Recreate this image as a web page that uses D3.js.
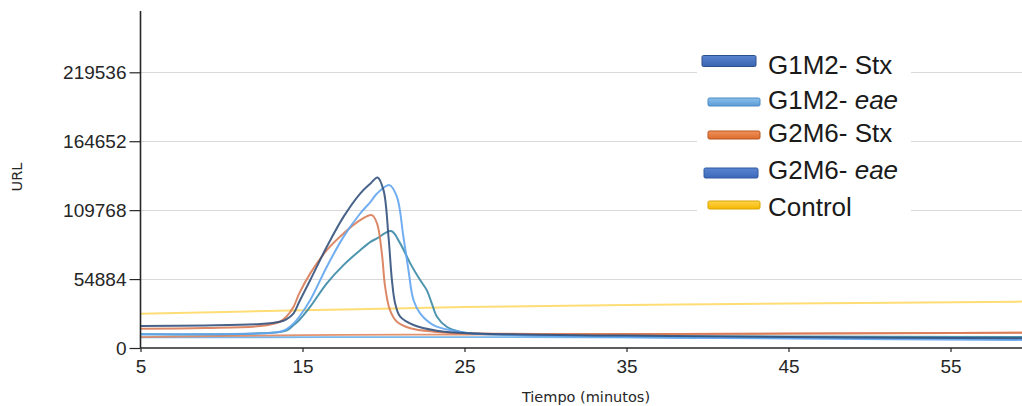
<!DOCTYPE html>
<html>
<head>
<meta charset="utf-8">
<script src="https://cdn.jsdelivr.net/npm/d3@7"></script>
<style>
  html, body { margin: 0; padding: 0; background: #ffffff; }
  svg { display: block; }
</style>
</head>
<body>
<svg id="chart" width="1022" height="406"></svg>
<script>
// ---------------- DATA ----------------
const yTickValues = [0, 54884, 109768, 164652, 219536];
const xTickValues = [5, 15, 25, 35, 45, 55];

const seriesNames = ["G1M2- Stx", "G1M2- eae", "G2M6- Stx", "G2M6- eae", "Control"];

// G1M2- Stx
const g1m2StxTime  = [5, 9, 12.4, 13.6, 14.0, 14.45, 14.8, 15.48, 16.5, 17.53, 18.56, 19.2, 19.63, 20.0, 20.31, 20.52, 20.72, 21.03, 21.85, 23.3, 25.35, 35, 45, 60];
const g1m2StxValue = [17500, 17900, 19100, 20900, 22800, 27600, 36800, 54100, 80600, 104400, 123000, 131000, 135800, 125700, 88500, 54100, 35500, 24900, 18300, 13800, 11700, 9900, 8700, 7700];

// G1M2- eae
const g1m2EaeTime  = [5, 12.4, 13.6, 14.0, 14.45, 14.8, 15.48, 16.5, 17.53, 18.56, 19.2, 19.6, 20.37, 20.83, 21.23, 21.54, 21.85, 22.26, 23.08, 24.3, 25.35, 35, 45, 60];
const g1m2EaeValue = [10900, 11700, 13000, 14900, 19600, 24900, 38200, 64700, 88500, 107100, 116400, 123000, 129700, 120300, 88500, 62000, 38200, 27600, 18300, 13800, 11700, 8700, 7600, 6400];

// G2M6- Stx
const g2m6StxTime  = [5, 9, 12.4, 13.6, 14.0, 14.45, 14.8, 15.48, 16.5, 17.53, 18.56, 19.28, 19.6, 19.9, 20.1, 20.4, 20.83, 21.65, 23.1, 25.35, 35, 45, 60];
const g2m6StxValue = [15400, 15900, 17500, 20900, 24900, 32900, 43500, 59400, 77900, 91200, 101800, 105800, 99200, 75300, 48800, 30200, 20900, 15700, 13000, 11700, 11100, 11500, 12200];

// G2M6- eae
const g2m6EaeTime  = [5, 12.4, 14.0, 14.45, 14.8, 15.48, 16.5, 17.53, 18.56, 19.2, 19.6, 20.47, 21.03, 21.65, 22.26, 22.67, 22.98, 23.3, 23.9, 24.7, 25.35, 35, 45, 60];
const g2m6EaeValue = [10900, 11700, 13800, 18300, 22300, 32900, 51500, 66000, 77900, 84500, 87300, 93100, 83300, 67400, 54100, 46100, 35600, 24900, 16900, 13000, 11700, 9500, 9100, 8700];

// Control
const controlTime  = [5, 15, 25, 35, 45, 60];
const controlValue = [27300, 30000, 32600, 34200, 35400, 37000];

// unlabelled flat baseline traces
const flatOrangeTime  = [5, 15, 25, 35, 45, 60];
const flatOrangeValue = [8700, 10300, 10700, 11100, 11500, 12300];
const flatBlueTime    = [5, 25, 45, 60];
const flatBlueValue   = [8400, 8700, 8000, 7600];

// ---------------- STYLE / LAYOUT ----------------
const W = 1022, H = 406;
const plotLeft = 140.5, plotBottom = 348, plotTop = 11;
const xPerMin = 16.2;

const lineColors = {
  "G1M2- Stx": "#34527d",
  "G1M2- eae": "#62a5f0",
  "G2M6- Stx": "#d97b55",
  "G2M6- eae": "#3a89a6",
  "Control":   "#ffd966",
  "flatOrange": "#e0875f",
  "flatBlue":   "#6aaee8"
};

const svg = d3.select("#chart");

const x = d3.scaleLinear()
  .domain([5, 60])
  .range([plotLeft, plotLeft + 55 * xPerMin]);

const y = d3.scaleLinear()
  .domain([0, 219536 * (plotBottom - plotTop) / (plotBottom - 72.3)])
  .range([plotBottom, plotTop]);

// grid lines
svg.append("g")
  .selectAll("line")
  .data(yTickValues.filter(v => v > 0))
  .join("line")
  .attr("x1", plotLeft)
  .attr("x2", W)
  .attr("y1", d => Math.round(y(d)) + 0.5)
  .attr("y2", d => Math.round(y(d)) + 0.5)
  .attr("stroke", "#d9d9d9")
  .attr("stroke-width", 1);

// lines
const lineGen = d3.line()
  .x(d => x(d[0]))
  .y(d => y(d[1]))
  .curve(d3.curveCatmullRom.alpha(0.5));

function zipSeries(t, v) { return t.map((tt, i) => [tt, v[i]]); }

const drawOrder = [
  { key: "flatBlue",   t: flatBlueTime,   v: flatBlueValue,   w: 1.8 },
  { key: "flatOrange", t: flatOrangeTime, v: flatOrangeValue, w: 1.8 },
  { key: "Control",    t: controlTime,    v: controlValue,    w: 2 },
  { key: "G2M6- eae",  t: g2m6EaeTime,    v: g2m6EaeValue,    w: 2 },
  { key: "G2M6- Stx",  t: g2m6StxTime,    v: g2m6StxValue,    w: 2 },
  { key: "G1M2- eae",  t: g1m2EaeTime,    v: g1m2EaeValue,    w: 2 },
  { key: "G1M2- Stx",  t: g1m2StxTime,    v: g1m2StxValue,    w: 2 }
];

const linesG = svg.append("g");
drawOrder.forEach(s => {
  linesG.append("path")
    .datum(zipSeries(s.t, s.v))
    .attr("d", lineGen)
    .attr("fill", "none")
    .attr("stroke", lineColors[s.key])
    .attr("stroke-width", s.w)
    .attr("stroke-opacity", 0.9)
    .attr("stroke-linejoin", "round");
});

// axes
const yAxis = d3.axisLeft(y)
  .tickValues(yTickValues)
  .tickFormat(d3.format("d"))
  .tickSize(11)
  .tickPadding(3);

const xAxis = d3.axisBottom(x)
  .tickValues(xTickValues)
  .tickFormat(d3.format("d"))
  .tickSize(4)
  .tickPadding(8);

const gy = svg.append("g")
  .attr("transform", `translate(${plotLeft},0)`)
  .call(yAxis);
gy.select(".domain").attr("d", `M0,${plotTop}V${plotBottom}`);

const gx = svg.append("g")
  .attr("transform", `translate(0,${plotBottom})`)
  .call(xAxis);
gx.select(".domain").attr("d", `M${plotLeft},0H${W}`);

[gx, gy].forEach(g => {
  g.select(".domain").attr("stroke", "#262626").attr("stroke-width", 1.6);
  g.selectAll(".tick line").attr("stroke", "#262626").attr("stroke-width", 1.2);
  g.selectAll(".tick text")
    .attr("fill", "#262626")
    .style("font-family", "'Liberation Sans', Arial, sans-serif")
    .style("font-size", "19px");
});

// axis titles
svg.append("text")
  .attr("x", 586)
  .attr("y", 402)
  .attr("text-anchor", "middle")
  .style("font-family", "'DejaVu Sans', Verdana, sans-serif")
  .style("font-size", "14.5px")
  .attr("fill", "#262626")
  .text("Tiempo (minutos)");

svg.append("text")
  .attr("transform", "translate(22,177) rotate(-90)")
  .attr("text-anchor", "middle")
  .style("font-family", "'DejaVu Sans', Verdana, sans-serif")
  .style("font-size", "14.5px")
  .attr("fill", "#262626")
  .text("URL");

// ---------------- LEGEND ----------------
const legendBox = { x: 697, y: 44, w: 214, h: 180 };
const legendLayout = [
  { sx: 702, sw: 54, sy: 61,  sh: 11, base: 73.5 },
  { sx: 708, sw: 52, sy: 102, sh: 8,  base: 108.5 },
  { sx: 708, sw: 52, sy: 135, sh: 8,  base: 142 },
  { sx: 704, sw: 54, sy: 173, sh: 10, base: 178.5 },
  { sx: 708, sw: 52, sy: 205, sh: 8,  base: 215.5 }
];
const swatchFill = [
  ["#5a84d0", "#3a64b0", "#2c4f8c"],
  ["#8cc0ec", "#5b9bd5", "#4d8bc4"],
  ["#f0905a", "#dd6c2e", "#b8561f"],
  ["#5a84d0", "#3d68ba", "#30589f"],
  ["#ffd24a", "#f4b800", "#d9a300"]
];

const defs = svg.append("defs");
swatchFill.forEach((c, i) => {
  const g = defs.append("linearGradient")
    .attr("id", "sw" + i)
    .attr("x1", 0).attr("y1", 0).attr("x2", 0).attr("y2", 1);
  g.append("stop").attr("offset", "0%").attr("stop-color", c[0]);
  g.append("stop").attr("offset", "100%").attr("stop-color", c[1]);
});

const lg = svg.append("g");
lg.append("rect")
  .attr("x", legendBox.x).attr("y", legendBox.y)
  .attr("width", legendBox.w).attr("height", legendBox.h)
  .attr("fill", "#ffffff");

seriesNames.forEach((name, i) => {
  const L = legendLayout[i];
  lg.append("rect")
    .attr("x", L.sx).attr("y", L.sy - L.sh / 2)
    .attr("width", L.sw).attr("height", L.sh)
    .attr("rx", 1.5)
    .attr("fill", `url(#sw${i})`)
    .attr("stroke", swatchFill[i][2])
    .attr("stroke-width", 1);

  const t = lg.append("text")
    .attr("x", 768)
    .attr("y", L.base)
    .style("font-family", "'Liberation Sans', Arial, sans-serif")
    .style("font-size", "26px")
    .attr("fill", "#1a1a1a");
  const parts = name.split(" ");
  if (parts[1] === "eae") {
    t.append("tspan").text(parts[0] + " ");
    t.append("tspan").style("font-style", "italic").text(parts[1]);
  } else {
    t.text(name);
  }
});
</script>
</body>
</html>
